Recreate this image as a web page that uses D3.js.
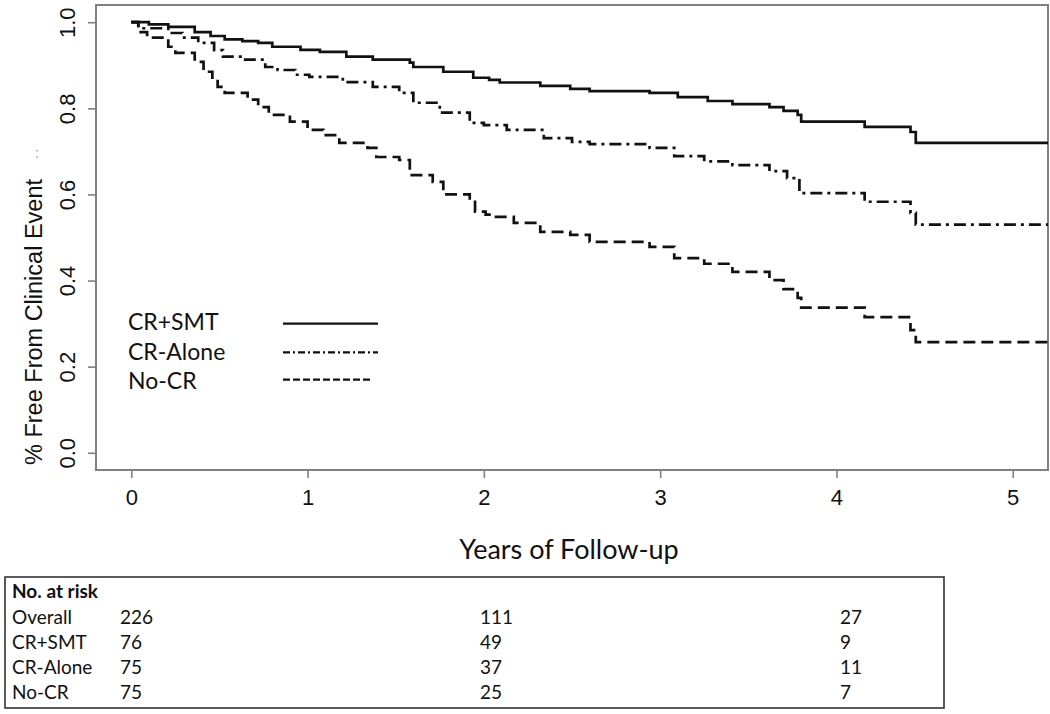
<!DOCTYPE html>
<html><head><meta charset="utf-8">
<script src="https://cdn.jsdelivr.net/npm/d3@7"></script>
<style>
html,body{margin:0;padding:0;background:#fff;}
svg{display:block;}
</style></head>
<body>
<svg id="chart" width="1050" height="714"></svg>
<script>
// ---------- data ----------
const groups = ["CR+SMT", "CR-Alone", "No-CR"];
const smtTimes = [0, 0.10, 0.21, 0.36, 0.45, 0.53, 0.63, 0.72, 0.80, 0.96, 1.07, 1.22, 1.37, 1.58, 1.60, 1.77, 1.94, 2.03, 2.09, 2.32, 2.49, 2.60, 2.94, 3.10, 3.27, 3.41, 3.62, 3.70, 3.78, 3.80, 4.16, 4.42, 4.45];
const smtSurv  = [1.0, 0.995, 0.989, 0.977, 0.968, 0.96, 0.956, 0.952, 0.943, 0.936, 0.931, 0.92, 0.913, 0.906, 0.896, 0.885, 0.871, 0.866, 0.86, 0.852, 0.845, 0.84, 0.836, 0.826, 0.817, 0.81, 0.803, 0.794, 0.785, 0.769, 0.757, 0.745, 0.72];
const crTimes = [0, 0.04, 0.21, 0.29, 0.38, 0.47, 0.52, 0.63, 0.76, 0.83, 0.93, 1.01, 1.20, 1.37, 1.52, 1.60, 1.75, 1.92, 2.00, 2.13, 2.34, 2.50, 2.60, 2.94, 3.08, 3.25, 3.41, 3.62, 3.72, 3.79, 4.16, 4.42, 4.45];
const crSurv  = [1.0, 0.986, 0.975, 0.964, 0.952, 0.935, 0.92, 0.913, 0.896, 0.889, 0.878, 0.873, 0.861, 0.85, 0.836, 0.813, 0.79, 0.766, 0.761, 0.75, 0.731, 0.722, 0.717, 0.708, 0.689, 0.677, 0.668, 0.654, 0.638, 0.603, 0.583, 0.557, 0.53];
const noTimes = [0, 0.04, 0.09, 0.21, 0.25, 0.36, 0.41, 0.46, 0.49, 0.53, 0.66, 0.72, 0.78, 0.90, 1.00, 1.09, 1.18, 1.34, 1.39, 1.52, 1.58, 1.71, 1.77, 1.92, 1.95, 2.01, 2.05, 2.17, 2.32, 2.49, 2.60, 2.94, 3.08, 3.25, 3.41, 3.62, 3.70, 3.78, 3.80, 4.16, 4.42, 4.45];
const noSurv  = [1.0, 0.977, 0.964, 0.943, 0.929, 0.908, 0.885, 0.871, 0.85, 0.836, 0.82, 0.803, 0.785, 0.769, 0.75, 0.738, 0.72, 0.708, 0.687, 0.68, 0.645, 0.629, 0.6, 0.587, 0.56, 0.553, 0.548, 0.534, 0.513, 0.506, 0.49, 0.478, 0.452, 0.439, 0.42, 0.401, 0.38, 0.36, 0.337, 0.315, 0.285, 0.257];
const followUpEnd = 5.2;
const xTicks = [0, 1, 2, 3, 4, 5];
const yTicks = [0.0, 0.2, 0.4, 0.6, 0.8, 1.0];
const riskTitle = "No. at risk";
const riskRows = ["Overall", "CR+SMT", "CR-Alone", "No-CR"];
const riskTimes = [0, 2, 4];
const riskOverall = [226, 111, 27];
const riskSMT = [76, 49, 9];
const riskCR = [75, 37, 11];
const riskNo = [75, 25, 7];

// ---------- layout ----------
const svg = d3.select("#chart");
const x = d3.scaleLinear().domain([-0.2, 5.2]).range([96, 1048]);
const y = d3.scaleLinear().domain([-0.04, 1.04]).range([470, 5]);
const xTable = d3.scaleLinear().domain([0, 4]).range([120, 840]);
const axisColor = "#808080";
const tickFont = "'Liberation Sans', Arial, sans-serif";
const textFont = "Lato, 'Open Sans', sans-serif";

svg.append("defs").append("clipPath").attr("id", "plotclip")
  .append("rect").attr("x", 96).attr("y", 5).attr("width", 952).attr("height", 465);

// axes
const xAxis = svg.append("g").attr("transform", "translate(0,470)")
  .call(d3.axisBottom(x).tickValues(xTicks).tickSize(8).tickPadding(10).tickFormat(d3.format("d")));
xAxis.select(".domain").remove();
xAxis.selectAll("line").attr("stroke", axisColor).attr("stroke-width", 1.6);
xAxis.selectAll("text").attr("font-family", tickFont).attr("font-size", 22).attr("fill", "#111")
  .attr("dy", null).attr("y", 35);

const yAxis = svg.append("g").attr("transform", "translate(96,0)")
  .call(d3.axisLeft(y).tickValues(yTicks).tickSize(8).tickFormat(d3.format(".1f")));
yAxis.select(".domain").remove();
yAxis.selectAll("line").attr("stroke", axisColor).attr("stroke-width", 1.6);
yAxis.selectAll("text").attr("font-family", tickFont).attr("font-size", 22).attr("fill", "#111")
  .attr("x", null).attr("dy", null).attr("text-anchor", "middle")
  .attr("transform", "translate(-21,0) rotate(-90)");

// box
svg.append("rect").attr("x", 96).attr("y", 5).attr("width", 952).attr("height", 465)
  .attr("fill", "none").attr("stroke", axisColor).attr("stroke-width", 2);

// axis titles
svg.append("text").attr("transform", "translate(42,322) rotate(-90)")
  .attr("text-anchor", "middle").attr("font-family", tickFont).attr("font-size", 23.5)
  .attr("fill", "#111").text("% Free From Clinical Event");
svg.append("text").attr("x", 37).attr("y", 158).attr("text-anchor", "middle")
  .attr("font-family", tickFont).attr("font-size", 15).attr("fill", "#999").text(":");
svg.append("text").attr("x", 569).attr("y", 559).attr("text-anchor", "middle")
  .attr("font-family", textFont).attr("font-size", 27).attr("fill", "#111").text("Years of Follow-up");

// curves
const series = [
  {name: groups[0], t: smtTimes, s: smtSurv, dash: null},
  {name: groups[1], t: crTimes, s: crSurv, dash: "12,5,3,5"},
  {name: groups[2], t: noTimes, s: noSurv, dash: "12,6"}
];
const line = d3.line().x(d => x(d[0])).y(d => y(d[1])).curve(d3.curveStepAfter);
const plot = svg.append("g").attr("clip-path", "url(#plotclip)");
series.forEach(sr => {
  const pts = sr.t.map((t, i) => [t, sr.s[i]]);
  pts.push([followUpEnd, sr.s[sr.s.length - 1]]);
  plot.append("path").datum(pts).attr("d", line)
    .attr("fill", "none").attr("stroke", "#111").attr("stroke-width", 2.7)
    .attr("stroke-dasharray", sr.dash);
});

// legend
const legendDash = [null, "7,3,2,3", "7,3"];
const legendLineY = [0.3, 0.233, 0.17];
const legendTextY = [0.286, 0.216, 0.147];
groups.forEach((g, i) => {
  svg.append("text").attr("x", 128).attr("y", y(legendTextY[i]))
    .attr("font-family", textFont).attr("font-size", 23).attr("fill", "#111").text(g);
  svg.append("line").attr("x1", 283).attr("x2", i === 2 ? 373 : 378)
    .attr("y1", y(legendLineY[i])).attr("y2", y(legendLineY[i]))
    .attr("stroke", "#111").attr("stroke-width", 2.2).attr("stroke-dasharray", legendDash[i]);
});

// risk table
svg.append("rect").attr("x", 5).attr("y", 577).attr("width", 939).attr("height", 131)
  .attr("fill", "none").attr("stroke", "#333").attr("stroke-width", 1.6);
svg.append("text").attr("x", 12).attr("y", 598).attr("font-family", textFont)
  .attr("font-size", 19).attr("font-weight", "bold").attr("fill", "#111").text(riskTitle);
const riskData = [riskOverall, riskSMT, riskCR, riskNo];
riskRows.forEach((r, i) => {
  const yy = 624 + i * 25;
  svg.append("text").attr("x", 12).attr("y", yy).attr("font-family", textFont)
    .attr("font-size", 19).attr("fill", "#111").text(r);
  riskTimes.forEach((t, j) => {
    svg.append("text").attr("x", xTable(t)).attr("y", yy).attr("font-family", textFont)
      .attr("font-size", 19).attr("fill", "#111").text(riskData[i][j]);
  });
});
</script>
</body></html>
